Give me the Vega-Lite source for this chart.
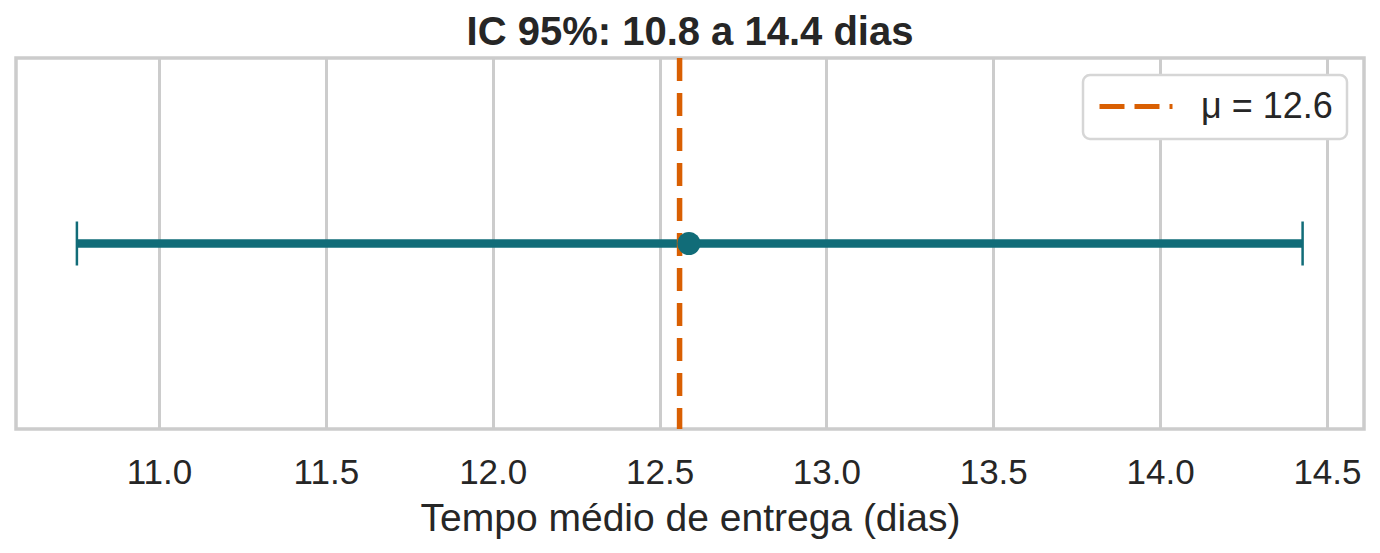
{
  "$schema": "https://vega.github.io/schema/vega-lite/v6.json",
  "width": 1348,
  "height": 371,
  "autosize": {"type": "none"},
  "padding": {"left": 16, "top": 58, "right": 16, "bottom": 124},
  "background": "white",
  "title": {
    "text": "IC 95%: 10.8 a 14.4 dias",
    "font": "Liberation Sans",
    "fontSize": 40,
    "fontWeight": "bold",
    "color": "#262626",
    "anchor": "middle",
    "baseline": "alphabetic",
    "offset": 14,
    "dy": 44
  },
  "data": {
    "values": [
      {"lo": 10.754, "hi": 14.427, "mean": 12.588, "mu": 12.56, "label": "μ = 12.6"}
    ]
  },
  "encoding": {
    "x": {
      "type": "quantitative",
      "scale": {"domain": [10.5715, 14.611], "nice": false, "zero": false},
      "axis": {
        "title": "Tempo médio de entrega (dias)",
        "values": [11, 11.5, 12, 12.5, 13, 13.5, 14, 14.5],
        "format": ".1f",
        "grid": true,
        "gridColor": "#cccccc",
        "gridWidth": 3,
        "ticks": false,
        "domain": false,
        "labelFont": "Liberation Sans",
        "labelFontSize": 35,
        "labelColor": "#262626",
        "labelPadding": 26,
        "titleFont": "Liberation Sans",
        "titleFontSize": 39,
        "titleFontWeight": "normal",
        "titleColor": "#262626",
        "titlePadding": 9
      }
    }
  },
  "layer": [
    {
      "mark": {"type": "rule", "color": "#116c78", "strokeWidth": 8.5},
      "encoding": {
        "x": {"field": "lo", "type": "quantitative"},
        "x2": {"field": "hi"},
        "y": {"datum": 0, "type": "quantitative", "scale": {"domain": [-1, 1]}, "axis": null}
      }
    },
    {
      "mark": {"type": "tick", "color": "#116c78", "opacity": 1, "thickness": 2.5, "size": 44, "orient": "vertical"},
      "encoding": {
        "x": {"field": "lo", "type": "quantitative"},
        "y": {"datum": 0, "type": "quantitative"}
      }
    },
    {
      "mark": {"type": "tick", "color": "#116c78", "opacity": 1, "thickness": 2.5, "size": 44, "orient": "vertical"},
      "encoding": {
        "x": {"field": "hi", "type": "quantitative"},
        "y": {"datum": 0, "type": "quantitative"}
      }
    },
    {
      "mark": {"type": "rule", "strokeWidth": 5.5, "strokeDash": [23, 12]},
      "encoding": {
        "x": {"field": "mu", "type": "quantitative"},
        "color": {
          "field": "label",
          "type": "nominal",
          "scale": {"range": ["#d95f02"]},
          "legend": {
            "title": null,
            "orient": "top-right",
            "offset": 17,
            "symbolType": "stroke",
            "symbolSize": 5329,
            "symbolStrokeWidth": 5,
            "symbolDash": [25, 10],
            "clipHeight": 35,
            "labelFont": "Liberation Sans",
            "labelFontSize": 36,
            "labelColor": "#262626",
            "labelOffset": 26,
            "padding": 14,
            "cornerRadius": 7,
            "strokeColor": "#d6d6d6",
            "fillColor": "white"
          }
        }
      }
    },
    {
      "mark": {"type": "circle", "color": "#116c78", "size": 530, "opacity": 1},
      "encoding": {
        "x": {"field": "mean", "type": "quantitative"},
        "y": {"datum": 0, "type": "quantitative"}
      }
    }
  ],
  "config": {
    "view": {"stroke": "#cccccc", "strokeWidth": 3.5},
    "legend": {"strokeWidth": 2.5}
  }
}
